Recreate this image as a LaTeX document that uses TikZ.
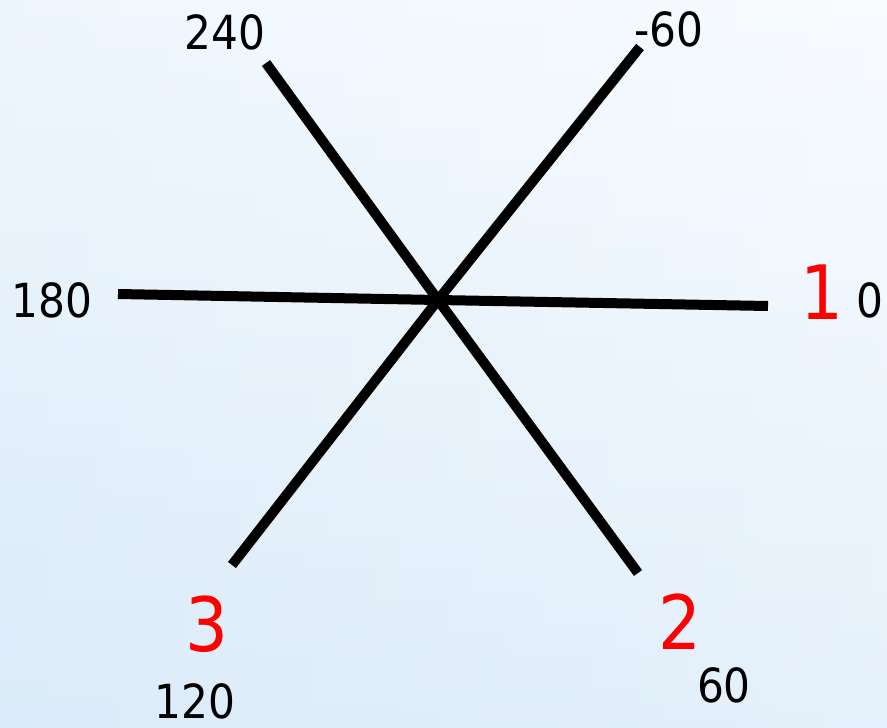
\documentclass[tikz,border=0pt]{standalone}
\usepackage{fontspec}
\setmainfont{DejaVu Sans Condensed}
\definecolor{bgtop}{RGB}{247,251,255}
\definecolor{bgmid}{RGB}{250,252,255}
\definecolor{bgbot}{RGB}{222,237,250}
\definecolor{bgside}{RGB}{205,228,247}
\begin{document}
\begin{tikzpicture}[x=1pt,y=-1pt,
  spoke/.style={line width=10pt,black},
  lbl/.style={inner sep=0pt,font=\fontsize{47}{47}\selectfont},
  phase/.style={inner sep=0pt,text=red,font=\fontsize{75}{75}\selectfont}]
\shade[top color=bgtop,middle color=bgmid,bottom color=bgbot] (0,0) rectangle (887,728);
\shade[left color=bgside,right color=white,opacity=0.2] (0,0) rectangle (887,728);
\useasboundingbox (0,0) rectangle (887,728);

\coordinate (c) at (438,300);
\coordinate (e0) at (768,306);
\coordinate (e180) at (118,294);
\coordinate (e240) at (266,63);
\coordinate (e60) at (638,573);
\coordinate (em60) at (640,47);
\coordinate (e120) at (232,565);

\draw[spoke] (e180) -- (c) -- (e0);
\draw[spoke] (e240) -- (c) -- (e60);
\draw[spoke] (em60) -- (c) -- (e120);

\node[lbl] (l240) at (225,32) {240};
\node[lbl] (lm60) at (669,29) {-60};
\node[lbl] (l180) at (52,300) {180};
\node[lbl] (l0) at (870,300) {0};
\node[lbl] (l120) at (195,701) {120};
\node[lbl] (l60) at (724,685) {60};

\node[phase] (p1) at (822,292) {1};
\node[phase] (p2) at (680,622) {2};
\node[phase] (p3) at (207,624) {3};
\end{tikzpicture}
\end{document}
